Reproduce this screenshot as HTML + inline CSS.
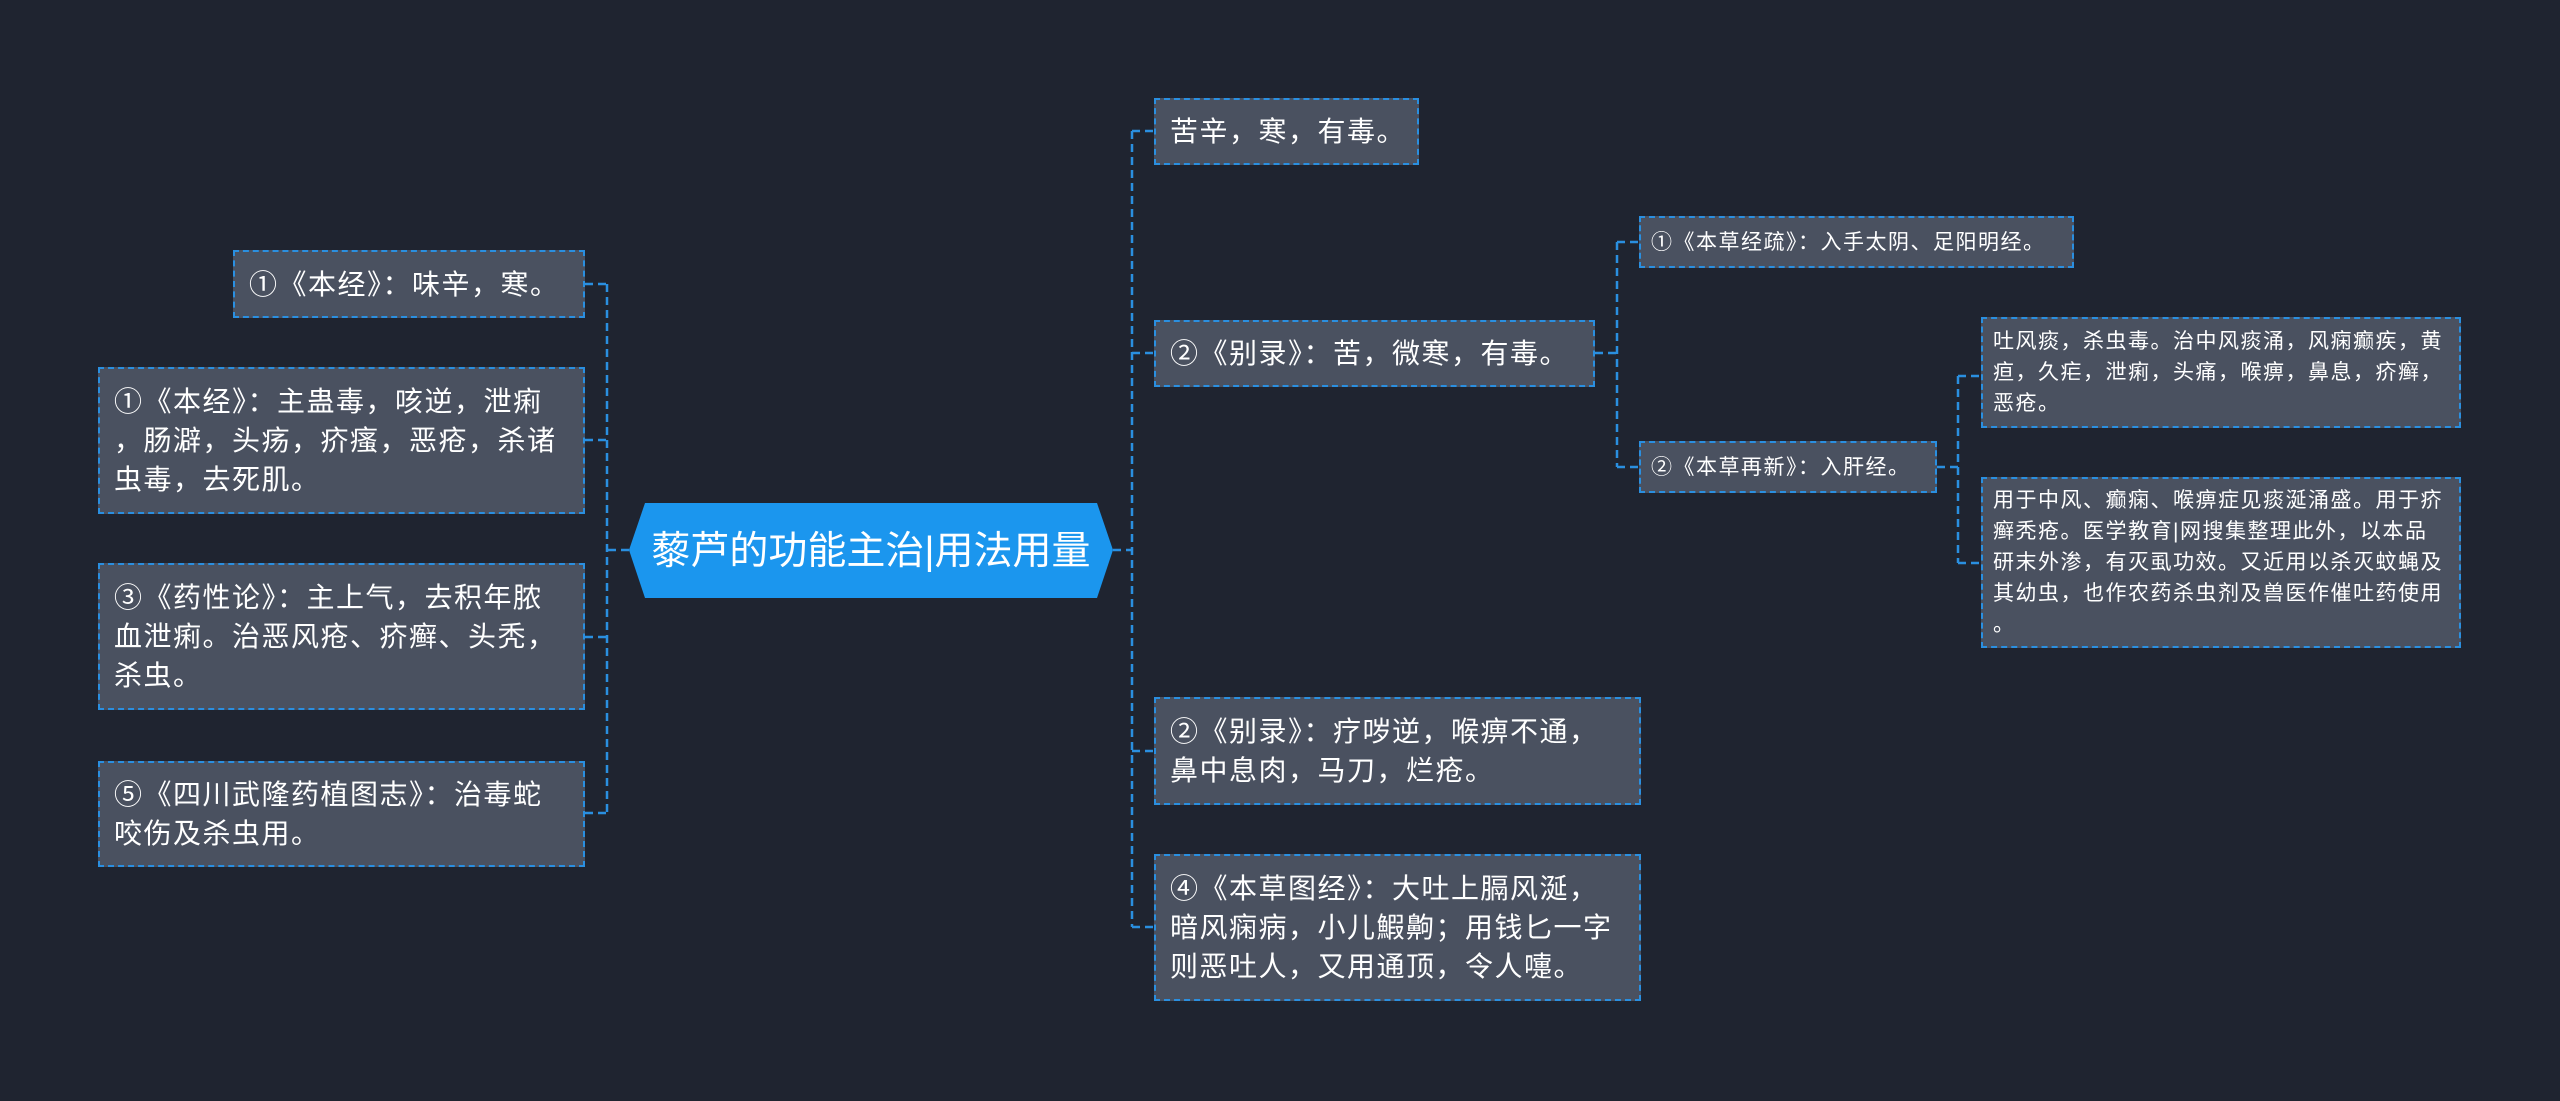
<!DOCTYPE html>
<html><head><meta charset="utf-8"><style>
html,body{margin:0;padding:0;}
body{width:2560px;height:1101px;background:#1f2430;position:relative;overflow:hidden;font-family:"Liberation Sans","Noto Sans CJK SC",sans-serif;color:#fff;}
.n{position:absolute;box-sizing:border-box;background:#4a5160;border:2px dashed #2a8fe0;font-size:28px;letter-spacing:1.5px;line-height:39px;padding:0 8px 0 14px;display:flex;align-items:center;white-space:nowrap;overflow:hidden;}
.s{font-size:21px;letter-spacing:1.5px;line-height:31px;padding:0 6px 0 10px;}
svg{position:absolute;left:0;top:0;}
</style></head><body>
<svg width="2560" height="1101">
<g stroke="#2a8fe0" stroke-width="2.5" fill="none" stroke-dasharray="8,5">
<path d="M629 550 H607 M607 284 V813 M585 284 H607 M585 440 H607 M585 637 H607 M585 813 H607"/>
<path d="M1113 550 H1132 M1132 131 V927 M1132 131 H1154 M1132 353 H1154 M1132 751 H1154 M1132 927 H1154"/>
<path d="M1595 353 H1617 M1617 242 V467 M1617 242 H1639 M1617 467 H1639"/>
<path d="M1937 467 H1958 M1958 376 V563 M1958 376 H1981 M1958 563 H1981"/>
</g>
</svg>
<svg width="2560" height="1101"><polygon points="645,503 1097,503 1113,550 1097,598 645,598 629,550" fill="#1b96ee"/><text x="871" y="564" text-anchor="middle" font-size="39" fill="#fff" font-family="Liberation Sans, Noto Sans CJK SC, sans-serif">藜芦的功能主治|用法用量</text></svg>

<div class="n" style="left:233px;top:250px;width:352px;height:68px;">①《本经》：味辛，寒。</div>
<div class="n" style="left:98px;top:367px;width:487px;height:147px;"><div>①《本经》：主蛊毒，咳逆，泄痢<br>，肠澼，头疡，疥瘙，恶疮，杀诸<br>虫毒，去死肌。</div></div>
<div class="n" style="left:98px;top:563px;width:487px;height:147px;"><div>③《药性论》：主上气，去积年脓<br>血泄痢。治恶风疮、疥癣、头秃，<br>杀虫。</div></div>
<div class="n" style="left:98px;top:761px;width:487px;height:106px;"><div>⑤《四川武隆药植图志》：治毒蛇<br>咬伤及杀虫用。</div></div>

<div class="n" style="left:1154px;top:98px;width:265px;height:67px;">苦辛，寒，有毒。</div>
<div class="n" style="left:1154px;top:320px;width:441px;height:67px;">②《别录》：苦，微寒，有毒。</div>
<div class="n" style="left:1154px;top:697px;width:487px;height:108px;"><div>②《别录》：疗哕逆，喉痹不通，<br>鼻中息肉，马刀，烂疮。</div></div>
<div class="n" style="left:1154px;top:854px;width:487px;height:147px;"><div>④《本草图经》：大吐上膈风涎，<br>暗风痫病，小儿鰕齁；用钱匕一字<br>则恶吐人，又用通顶，令人嚏。</div></div>

<div class="n s" style="left:1639px;top:216px;width:435px;height:52px;">①《本草经疏》：入手太阴、足阳明经。</div>
<div class="n s" style="left:1639px;top:441px;width:298px;height:52px;">②《本草再新》：入肝经。</div>
<div class="n s" style="left:1981px;top:317px;width:480px;height:111px;"><div>吐风痰，杀虫毒。治中风痰涌，风痫癫疾，黄<br>疸，久疟，泄痢，头痛，喉痹，鼻息，疥癣，<br>恶疮。</div></div>
<div class="n s" style="left:1981px;top:477px;width:480px;height:171px;"><div>用于中风、癫痫、喉痹症见痰涎涌盛。用于疥<br>癣秃疮。医学教育|网搜集整理此外，以本品<br>研末外渗，有灭虱功效。又近用以杀灭蚊蝇及<br>其幼虫，也作农药杀虫剂及兽医作催吐药使用<br>。</div></div>
</body></html>
